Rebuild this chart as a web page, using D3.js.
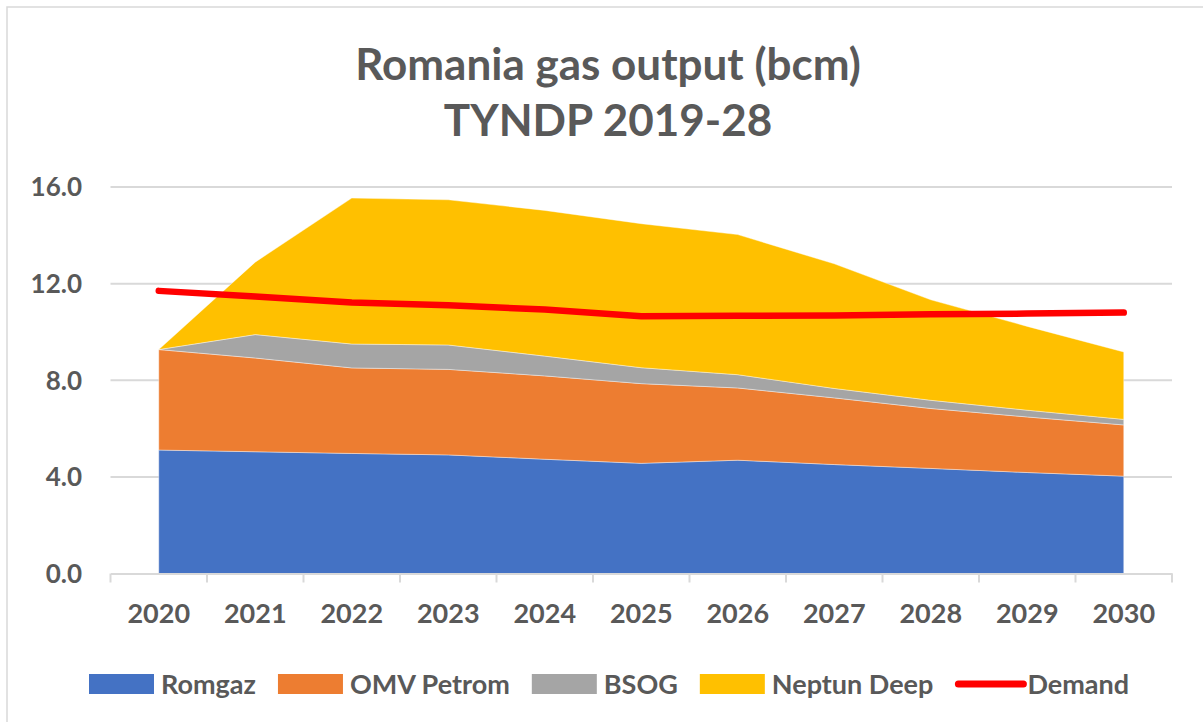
<!DOCTYPE html>
<html>
<head>
<meta charset="utf-8">
<script src="https://cdn.jsdelivr.net/npm/d3@7"></script>
<style>
  body { margin: 0; background: #fff; }
  svg text { font-family: Lato, "Open Sans", sans-serif; font-weight: bold; fill: #595959; }
</style>
</head>
<body>
<svg id="chart"></svg>
<script>
// data (bcm)
const years = ["2020", "2021", "2022", "2023", "2024", "2025", "2026", "2027", "2028", "2029", "2030"];
const romgaz = [5.11, 5.04, 4.97, 4.91, 4.73, 4.56, 4.69, 4.51, 4.35, 4.18, 4.03];
const omvPetrom = [4.16, 3.88, 3.54, 3.54, 3.45, 3.30, 2.99, 2.76, 2.48, 2.30, 2.12];
const bsog = [0, 0.97, 0.99, 1.01, 0.82, 0.66, 0.55, 0.39, 0.34, 0.28, 0.23];
const neptunDeep = [0, 3.00, 6.04, 6.01, 6.03, 5.96, 5.80, 5.16, 4.16, 3.47, 2.79];
const demand = [11.70, 11.47, 11.22, 11.10, 10.93, 10.65, 10.67, 10.68, 10.73, 10.76, 10.80];
const yTicks = [0, 4, 8, 12, 16];

const seriesNames = ["Romgaz", "OMV Petrom", "BSOG", "Neptun Deep"];
const seriesColors = ["#4472C4", "#ED7D31", "#A5A5A5", "#FFC000"];

const width = 1203;
const height = 722;
const plot = { left: 110.5, right: 1172, top: 187, bottom: 573.5 };

const svg = d3.select("#chart")
    .attr("width", width)
    .attr("height", height);

// chart frame
svg.append("rect")
    .attr("x", 7).attr("y", 7)
    .attr("width", 1205).attr("height", 730)
    .attr("fill", "#fff")
    .attr("stroke", "#d9d9d9")
    .attr("stroke-width", 1.5);

const x = d3.scaleBand()
    .domain(years)
    .range([plot.left, plot.right]);

const y = d3.scaleLinear()
    .domain([0, 16])
    .range([plot.bottom, plot.top]);

const cx = d => x(d) + x.bandwidth() / 2;

// title
svg.append("text")
    .attr("x", 608).attr("y", 80)
    .attr("text-anchor", "middle")
    .style("font-size", "44px")
    .text("Romania gas output (bcm)");
svg.append("text")
    .attr("x", 608).attr("y", 136)
    .attr("text-anchor", "middle")
    .style("font-size", "44px")
    .text("TYNDP 2019-28");

// gridlines
svg.append("g")
    .selectAll("line")
    .data(yTicks.filter(t => t > 0))
    .enter()
    .append("line")
    .attr("x1", plot.left).attr("x2", plot.right)
    .attr("y1", d => y(d)).attr("y2", d => y(d))
    .attr("stroke", "#d9d9d9")
    .attr("stroke-width", 2);

// y labels
svg.append("g")
    .selectAll("text")
    .data(yTicks)
    .enter()
    .append("text")
    .attr("x", 82)
    .attr("y", d => y(d))
    .attr("dy", "0.36em")
    .attr("text-anchor", "end")
    .style("font-size", "26px")
    .text(d => d.toFixed(1));

// stacked areas
const table = years.map((yr, i) => ({
    year: yr,
    "Romgaz": romgaz[i],
    "OMV Petrom": omvPetrom[i],
    "BSOG": bsog[i],
    "Neptun Deep": neptunDeep[i]
}));
const stacked = d3.stack().keys(seriesNames)(table);

const area = d3.area()
    .x(d => cx(d.data.year))
    .y0(d => y(d[0]))
    .y1(d => y(d[1]));

svg.append("g")
    .selectAll("path")
    .data(stacked)
    .enter()
    .append("path")
    .attr("d", area)
    .attr("fill", (d, i) => seriesColors[i])
    .attr("stroke", "#fff")
    .attr("stroke-width", 0.8)
    .attr("stroke-opacity", 0.5);

// x axis
const xAxis = d3.axisBottom(x).tickSize(0).tickPadding(0).tickFormat("");
const gx = svg.append("g")
    .attr("transform", `translate(0,${plot.bottom})`)
    .call(xAxis);
gx.select(".domain").attr("stroke", "#d9d9d9").attr("stroke-width", 2);

const boundaries = years.map(yr => x(yr)).concat([plot.right]);
svg.append("g")
    .selectAll("line")
    .data(boundaries)
    .enter()
    .append("line")
    .attr("x1", d => d).attr("x2", d => d)
    .attr("y1", plot.bottom).attr("y2", plot.bottom + 9)
    .attr("stroke", "#d9d9d9")
    .attr("stroke-width", 2);

svg.append("g")
    .selectAll("text")
    .data(years)
    .enter()
    .append("text")
    .attr("x", d => cx(d))
    .attr("y", 623)
    .attr("text-anchor", "middle")
    .style("font-size", "27px")
    .text(d => d);

// demand line
const line = d3.line()
    .x((d, i) => cx(years[i]))
    .y(d => y(d));

svg.append("path")
    .datum(demand)
    .attr("d", line)
    .attr("fill", "none")
    .attr("stroke", "#FF0000")
    .attr("stroke-width", 6.5)
    .attr("stroke-linecap", "round")
    .attr("stroke-linejoin", "round");

// legend
const legendItems = seriesNames.map((n, i) => ({ name: n, color: seriesColors[i], type: "rect" }))
    .concat([{ name: "Demand", color: "#FF0000", type: "line" }]);

const legend = svg.append("g");
let lx = 89;
const ly = 684;
legendItems.forEach(item => {
    if (item.type === "rect") {
        legend.append("rect")
            .attr("x", lx).attr("y", ly - 10)
            .attr("width", 65).attr("height", 20)
            .attr("fill", item.color);
    } else {
        legend.append("line")
            .attr("x1", lx + 3).attr("x2", lx + 68)
            .attr("y1", ly).attr("y2", ly)
            .attr("stroke", item.color)
            .attr("stroke-width", 7)
            .attr("stroke-linecap", "round");
    }
    const t = legend.append("text")
        .attr("x", lx + 72)
        .attr("y", ly)
        .attr("dy", "0.36em")
        .style("font-size", "27px")
        .text(item.name);
    lx += 72 + t.node().getComputedTextLength() + 22;
});
</script>
</body>
</html>
